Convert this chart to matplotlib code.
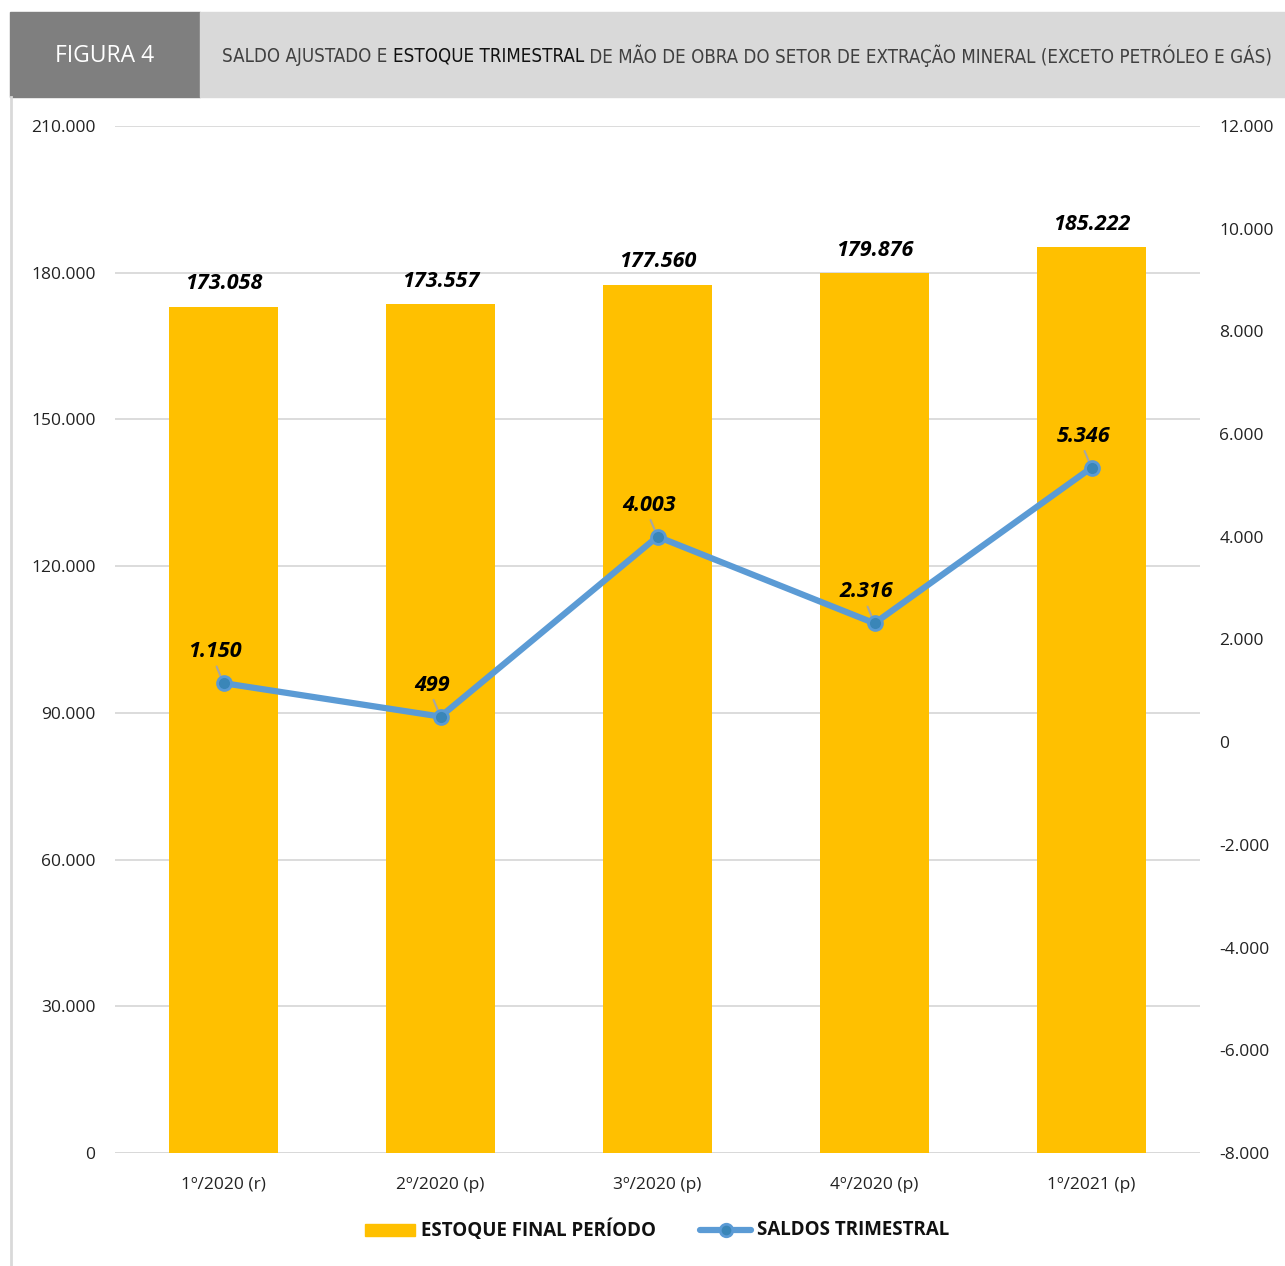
import matplotlib
matplotlib.use("Agg")
import matplotlib.pyplot as plt
from matplotlib import font_manager
from matplotlib.patches import Rectangle
from matplotlib.lines import Line2D
import numpy as np

categories = ["1º/2020 (r)", "2º/2020 (p)", "3º/2020 (p)", "4º/2020 (p)", "1º/2021 (p)"]
estoque = [173058, 173557, 177560, 179876, 185222]
saldos = [1150, 499, 4003, 2316, 5346]
left_ticks = [0, 30000, 60000, 90000, 120000, 150000, 180000, 210000]
right_ticks = [-8000, -6000, -4000, -2000, 0, 2000, 4000, 6000, 8000, 10000, 12000]


def fmt(v):
    return f"{v:,}".replace(",", ".")


BAR = "#FFC000"
LINE = "#5B9BD5"
MARK = "#3A86B8"
FONT = ["Open Sans", "DejaVu Sans"]


def narrow_font():
    """Pick a condensed sans family if one is installed."""
    cands = []
    for f in font_manager.fontManager.ttflist:
        nm = f.name.lower()
        st = str(f.stretch).lower()
        if ("condensed" in nm or "narrow" in nm or "condensed" in st) and f.style == "normal":
            w = f.weight if isinstance(f.weight, int) else 400
            cands.append((abs(w - 400), f.fname))
    if cands:
        cands.sort()
        return font_manager.FontProperties(fname=cands[0][1])
    return None


W, H = 1285, 1266
fig = plt.figure(figsize=(W / 100, H / 100), dpi=100)
renderer = fig.canvas.get_renderer()

# header bands
fig.patches.append(Rectangle((10 / W, 1 - 97 / H), 190 / W, 85 / H,
                             transform=fig.transFigure, color="#7F7F7F", zorder=0))
fig.patches.append(Rectangle((200 / W, 1 - 97 / H), 1085 / W, 85 / H,
                             transform=fig.transFigure, color="#D9D9D9", zorder=0))
fig.add_artist(Line2D([10.5 / W, 10.5 / W], [0, 1 - 97 / H], transform=fig.transFigure,
                      color="#D9D9D9", lw=2))
fig.text(105 / W, 1 - 56 / H, "FIGURA 4", color="white", fontsize=16.5,
         family=FONT, ha="center", va="center")

# title: fit between x=222 and x=1275
ty = 1 - 56 / H
parts = [("SALDO AJUSTADO E ", "#404040"), ("ESTOQUE TRIMESTRAL", "#111111"),
         (" DE MÃO DE OBRA DO SETOR DE EXTRAÇÃO MINERAL (EXCETO PETRÓLEO E GÁS)", "#404040")]
nf = narrow_font()


def title_props(size):
    if nf is not None:
        fp = nf.copy()
        fp.set_size(size)
        return dict(fontproperties=fp)
    return dict(family=FONT, fontsize=size)


def draw_title(size):
    arts = []
    x = 222 / W
    for txt, col in parts:
        t = fig.text(x, ty, txt, color=col, ha="left", va="center", **title_props(size))
        arts.append(t)
        x += t.get_window_extent(renderer=renderer).width / W
    return arts, x * W - 222


size = 17.0
arts, width = draw_title(size)
target = 1053.0
if width > target + 2:
    for a in arts:
        a.remove()
    size = size * target / width
    arts, width = draw_title(size)

# main axes
ax = fig.add_axes([115 / W, 1 - 1153 / H, 1085 / W, 1027 / H])
xpos = np.arange(len(categories))
ax.bar(xpos, estoque, width=0.5, color=BAR, zorder=2)
ax.set_xlim(-0.5, len(categories) - 0.5)
ax.set_ylim(0, 210000)
ax.set_yticks(left_ticks)
ax.set_yticklabels([fmt(v) for v in left_ticks], family=FONT, fontsize=12.5, color="#222222")
ax.set_xticks(xpos)
ax.set_xticklabels(categories, family=FONT, fontsize=12.5, color="#222222")
ax.tick_params(axis="y", length=0, pad=14)
ax.tick_params(axis="x", length=0, pad=17)
ax.grid(axis="y", color="#D9D9D9", lw=1.3, zorder=0)
ax.set_axisbelow(True)
for s in ax.spines.values():
    s.set_visible(False)
ax.axhline(0, color="#D9D9D9", lw=2, zorder=1)

for xi, v in zip(xpos, estoque):
    ax.annotate(fmt(v), (xi, v), xytext=(0, 9), textcoords="offset points",
                ha="center", va="bottom", fontsize=15.5, fontweight="bold",
                fontstyle="italic", family=FONT, color="black")

# secondary axis for saldos
ax2 = ax.twinx()
ax2.set_ylim(-8000, 12000)
ax2.set_yticks(right_ticks)
ax2.set_yticklabels([fmt(v) for v in right_ticks], family=FONT, fontsize=12.5, color="#222222")
ax2.tick_params(length=0, pad=14)
for s in ax2.spines.values():
    s.set_visible(False)
ax2.plot(xpos, saldos, color=LINE, lw=4.5, zorder=3, solid_capstyle="round")
ax2.plot(xpos, saldos, ls="none", marker="o", ms=10, mfc=MARK, mec=LINE, mew=2, zorder=4)

for xi, v in zip(xpos, saldos):
    ax2.annotate(fmt(v), (xi, v), xytext=(-6, 15), textcoords="offset points",
                 ha="center", va="bottom", fontsize=15.5, fontweight="bold",
                 fontstyle="italic", family=FONT, color="black", zorder=5)
    ax2.annotate("", (xi, v), xytext=(-5, 12), textcoords="offset points",
                 arrowprops=dict(arrowstyle="-", color="#A6A6A6", lw=1.5,
                                 shrinkA=0, shrinkB=3), zorder=3)

# legend
ly = 1 - 1230 / H
fig.patches.append(Rectangle((365 / W, ly - 6 / H), 50 / W, 12 / H,
                             transform=fig.transFigure, color=BAR))
fig.text(421 / W, ly, "ESTOQUE FINAL PERÍODO", family=FONT, fontsize=13.5,
         fontweight="bold", color="#111111", ha="left", va="center")
fig.add_artist(Line2D([700 / W, 751 / W], [ly, ly], transform=fig.transFigure,
                      color=LINE, lw=4.5, solid_capstyle="round"))
fig.add_artist(Line2D([726 / W], [ly], transform=fig.transFigure, ls="none",
                      marker="o", ms=9, mfc=MARK, mec=LINE, mew=2))
fig.text(757 / W, ly, "SALDOS TRIMESTRAL", family=FONT, fontsize=13.5,
         fontweight="bold", color="#111111", ha="left", va="center")

fig.savefig("out.png", dpi=100, facecolor="white")
